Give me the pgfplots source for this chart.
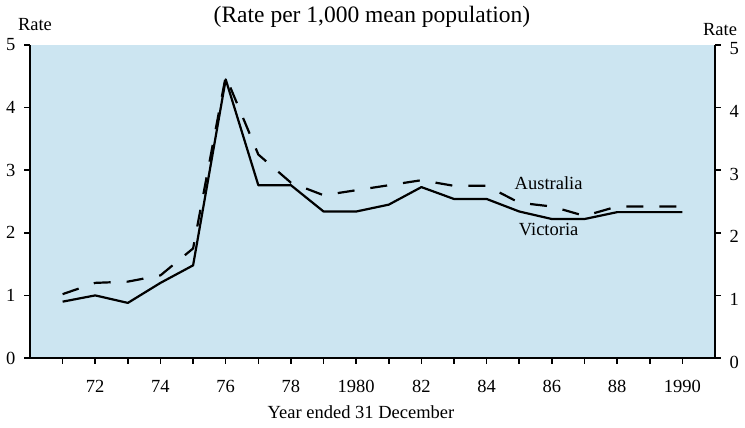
\documentclass[border=0pt]{standalone}
\usepackage{pgfplots}
\pgfplotsset{compat=1.18}
\usepackage{fontspec}
\setmainfont{Liberation Serif}
\definecolor{bgblue}{RGB}{204,229,241}
\newcommand{\lab}{\fontsize{18.5}{20}\selectfont}
\begin{document}
\begin{tikzpicture}
\pgfplotsset{
  common/.style={
    at={(30pt,70pt)}, anchor=south west,
    scale only axis, width=685pt, height=313pt,
    xmin=1970, xmax=1991, ymin=0, ymax=5,
    /pgf/number format/assume math mode=true,
    tick align=outside,
    major tick length=6pt,
    tick style={black, line width=1.6pt},
    axis line style={black, line width=2.2pt},
    ytick={0,1,2,3,4,5},
    yticklabel style={font=\lab},
    xticklabel style={font=\lab},
  }
}
\begin{axis}[common,
  axis x line*=bottom, axis y line*=left,
  axis background/.style={fill=bgblue},
  xtick={1971,...,1990},
  xticklabels={,72,,74,,76,,78,,1980,,82,,84,,86,,88,,1990},
  xticklabel style={yshift=-13pt},
  yticklabel style={xshift=-5pt},
  clip=false]
\addplot[black, line width=2.2pt, line join=round] coordinates {
(1971,0.90) (1972,1.00) (1973,0.88) (1974,1.20) (1975,1.48)
(1976,4.45) (1977,2.76) (1978,2.76) (1979,2.34) (1980,2.34)
(1981,2.45) (1982,2.73) (1983,2.54) (1984,2.54) (1985,2.34)
(1986,2.22) (1987,2.22) (1988,2.33) (1989,2.33) (1990,2.33)};
\addplot[black, line width=2.2pt, dash pattern=on 17pt off 16pt] coordinates {
(1971,1.02) (1972,1.20) (1973,1.22) (1974,1.32) (1975,1.75)
(1976,4.50) (1977,3.25) (1978,2.80) (1979,2.60) (1980,2.68)
(1981,2.76) (1982,2.84) (1983,2.75) (1984,2.75) (1985,2.48)
(1986,2.42) (1987,2.27) (1988,2.42) (1989,2.42) (1990,2.42)};
\node[font=\lab] at (axis cs:1985.9,2.80) {Australia};
\node[font=\lab] at (axis cs:1985.9,2.05) {Victoria};
\end{axis}
\begin{axis}[common,
  axis x line=none, axis y line*=right,
  xtick=\empty,
  yticklabel style={xshift=5pt, yshift=-4pt}]
\addplot[draw=none] coordinates {(1971,0)};
\end{axis}
\node[font=\fontsize{23.5}{26}\selectfont] at (372pt,411pt) {(Rate per 1,000 mean population)};
\node[font=\lab] at (35pt,403pt) {Rate};
\node[font=\lab] at (720pt,398pt) {Rate};
\node[font=\lab] at (361pt,16pt) {Year ended 31 December};
\pgfresetboundingbox
\path[use as bounding box] (0pt,0pt) rectangle (745pt,428pt);
\end{tikzpicture}
\end{document}
